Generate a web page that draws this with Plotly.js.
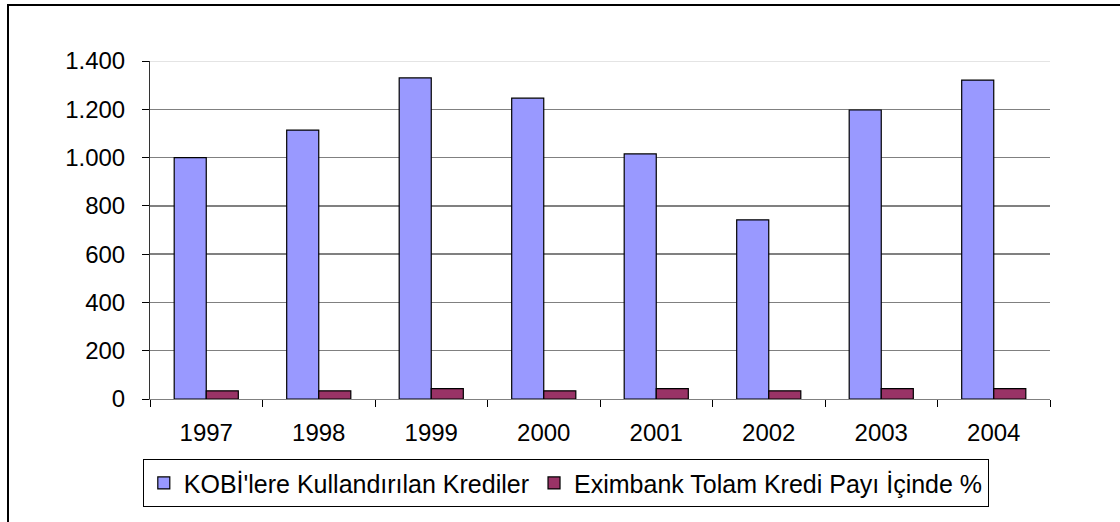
<!DOCTYPE html>
<html>
<head>
<meta charset="utf-8">
<script src="https://cdn.plot.ly/plotly-3.0.1.min.js"></script>
<style>
  html, body { margin: 0; padding: 0; background: #fff; }
  #wrap { position: relative; width: 1120px; height: 522px; overflow: hidden; }
  #chart { width: 1120px; height: 522px; }
  #frame { position: absolute; left: 7px; top: 4px; width: 1200px; height: 600px;
           border: 2px solid #000; pointer-events: none; box-sizing: border-box; }
</style>
</head>
<body>
<div id="wrap">
  <div id="chart"></div>
  <div id="frame"></div>
</div>
<script>
const years = ['1997', '1998', '1999', '2000', '2001', '2002', '2003', '2004'];
const kobiCredits = [1000, 1114, 1330, 1246, 1015, 742, 1197, 1321];
const eximShare = [34, 34, 43, 34, 43, 34, 43, 43];
const seriesNames = ["KOBİ'lere Kullandırılan Krediler", 'Eximbank Tolam Kredi Payı İçinde %'];
const yTicks = [0, 200, 400, 600, 800, 1000, 1200, 1400];

const font = 'Liberation Sans, Arial, sans-serif';

const traces = [
  { type: 'bar', name: seriesNames[0], x: years, y: kobiCredits,
    marker: { color: '#9999FF', line: { color: '#000', width: 1.2 } } },
  { type: 'bar', name: seriesNames[1], x: years, y: eximShare,
    marker: { color: '#993366', line: { color: '#000', width: 1.2 } } }
];

const layout = {
  width: 1120, height: 522,
  margin: { l: 150, r: 70, t: 61, b: 123 },
  paper_bgcolor: '#fff', plot_bgcolor: '#fff',
  separators: ',.',
  font: { family: font, size: 24, color: '#000' },
  barmode: 'group', bargap: 0.43, bargroupgap: 0,
  showlegend: true,
  legend: {
    orientation: 'h', x: -0.008, xanchor: 'left', y: -0.178, yanchor: 'top',
    bordercolor: '#000', borderwidth: 1, bgcolor: '#fff',
    font: { family: font, size: 25, color: '#000' },
    itemwidth: 30, tracegroupgap: 0
  },
  xaxis: {
    type: 'category', tickson: 'boundaries', ticks: 'outside', ticklen: 7,
    tickcolor: '#000', showline: true, linecolor: '#808080', linewidth: 1,
    showgrid: false, ticklabelstandoff: 12,
    tickfont: { family: font, size: 24, color: '#000' }
  },
  yaxis: {
    range: [0, 1400], tickvals: yTicks, tickformat: ',d',
    ticks: 'outside', ticklen: 7, tickcolor: '#000',
    showline: true, linecolor: '#333', linewidth: 1,
    showgrid: true, gridcolor: '#808080', gridwidth: 1.5,
    zeroline: false, ticklabelstandoff: 12,
    tickfont: { family: font, size: 24, color: '#000' }
  },
  shapes: [
    { type: 'line', xref: 'paper', yref: 'y', x0: 0, x1: 1, y0: 1400, y1: 1400,
      line: { color: '#e4e4e4', width: 2 }, layer: 'above' }
  ]
};

Plotly.newPlot('chart', traces, layout, { displayModeBar: false, staticPlot: true });
</script>
</body>
</html>
